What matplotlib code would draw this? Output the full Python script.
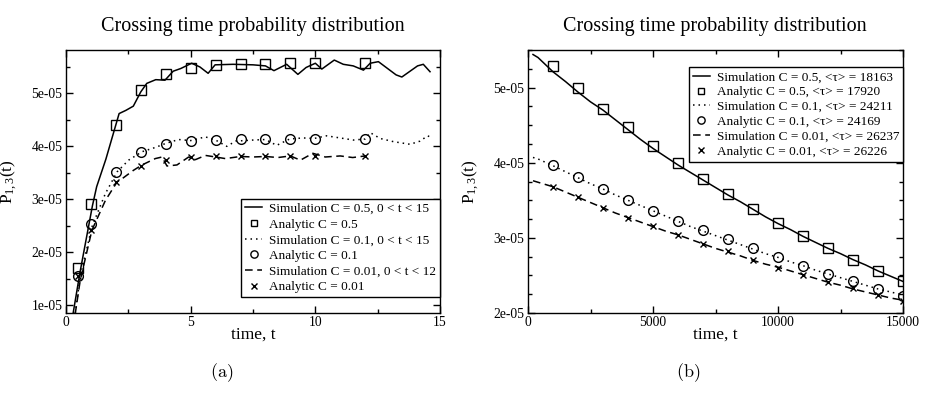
import numpy as np
import matplotlib
matplotlib.use("Agg")
import matplotlib.pyplot as plt
from matplotlib.ticker import MultipleLocator, FuncFormatter

plt.rcParams["font.family"] = ["Liberation Serif", "DejaVu Serif"]
plt.rcParams["mathtext.fontset"] = "custom"
plt.rcParams["mathtext.rm"] = "Liberation Serif"
plt.rcParams["mathtext.it"] = "Liberation Serif:italic"

# ---------------- panel (a): short times ----------------
a_sim05_t = [0.25, 0.56, 1.06, 1.23, 1.6, 2.13, 2.4, 2.7, 3.0, 3.24, 3.6, 3.97, 4.3, 4.6,
             5.04, 5.37, 5.7, 5.98, 6.7, 7.5, 8.0, 8.34, 8.85, 9.3, 9.63, 10.0, 10.26,
             10.76, 11.12, 11.52, 11.93, 12.2, 12.53, 13.24, 13.47, 14.1, 14.33, 14.6]
a_sim05_p = [0.75, 1.62, 2.88, 3.24, 3.76, 4.62, 4.68, 4.76, 5.03, 5.19, 5.26, 5.25, 5.42, 5.47,
             5.57, 5.50, 5.38, 5.54, 5.55, 5.54, 5.52, 5.43, 5.55, 5.36, 5.49, 5.57, 5.46,
             5.63, 5.55, 5.52, 5.44, 5.57, 5.60, 5.35, 5.31, 5.52, 5.55, 5.41]

a_sim01_t = [0.37, 0.57, 1.04, 1.31, 1.58, 2.05, 2.51, 3.05, 3.58, 4.02, 4.52, 5.0, 5.59, 6.0,
             6.45, 6.8, 7.5, 8.0, 8.45, 8.97, 9.5, 9.95, 10.45, 10.99, 11.53, 12.0, 12.2,
             12.6, 13.13, 13.8, 14.2, 14.5, 14.6]
a_sim01_p = [0.85, 1.54, 2.48, 2.80, 3.11, 3.52, 3.74, 3.90, 3.98, 4.06, 4.13, 4.11, 4.18, 4.12,
             4.00, 4.10, 4.12, 4.13, 4.02, 4.14, 4.16, 4.15, 4.20, 4.16, 4.12, 4.14, 4.26,
             4.15, 4.09, 4.04, 4.10, 4.20, 4.18]

a_sim001_t = [0.37, 0.57, 1.04, 1.58, 2.05, 2.25, 2.71, 3.05, 3.58, 3.85, 4.05, 4.45, 4.92,
              5.19, 5.59, 6.0, 6.39, 7.0, 7.5, 8.0, 8.5, 9.0, 9.4, 9.9, 10.4, 11.0, 11.5, 12.0]
a_sim001_p = [0.84, 1.47, 2.42, 2.98, 3.33, 3.39, 3.55, 3.65, 3.77, 3.80, 3.63, 3.65, 3.80,
              3.75, 3.83, 3.80, 3.77, 3.81, 3.80, 3.81, 3.79, 3.82, 3.74, 3.87, 3.80, 3.82, 3.79, 3.82]

a_ana_t = [0.5, 1, 2, 3, 4, 5, 6, 7, 8, 9, 10, 12]
a_ana05 = [1.70, 2.92, 4.40, 5.06, 5.37, 5.48, 5.54, 5.55, 5.56, 5.57, 5.57, 5.57]
a_ana01 = [1.55, 2.53, 3.51, 3.90, 4.05, 4.10, 4.13, 4.14, 4.14, 4.14, 4.14, 4.14]
a_ana001 = [1.55, 2.43, 3.32, 3.63, 3.75, 3.80, 3.81, 3.81, 3.81, 3.82, 3.82, 3.82]

a_labels = ["Simulation C = 0.5, 0 < t < 15", "Analytic C = 0.5",
            "Simulation C = 0.1, 0 < t < 15", "Analytic C = 0.1",
            "Simulation C = 0.01, 0 < t < 12", "Analytic C = 0.01"]

# ---------------- panel (b): long times ----------------
b_sim_t = [200, 400, 1000, 1500, 2000, 2500, 3000, 3500, 4000, 4500, 5000, 5500, 6000, 6500,
           7000, 7500, 8000, 8500, 9000, 9500, 10000, 10500, 11000, 11500, 12000, 12500,
           13000, 13500, 14000, 14500, 15000]
b_sim05 = [5.44, 5.40, 5.21, 5.08, 4.94, 4.81, 4.70, 4.57, 4.44, 4.31, 4.19, 4.08, 3.97, 3.87,
           3.77, 3.67, 3.57, 3.48, 3.38, 3.28, 3.19, 3.11, 3.02, 2.94, 2.86, 2.79,
           2.71, 2.64, 2.56, 2.49, 2.42]
b_sim01 = [4.07, 4.05, 3.96, 3.88, 3.80, 3.72, 3.65, 3.57, 3.50, 3.43, 3.36, 3.29, 3.22, 3.15,
           3.09, 3.03, 2.97, 2.91, 2.85, 2.79, 2.74, 2.68, 2.63, 2.57, 2.52, 2.47,
           2.42, 2.37, 2.32, 2.28, 2.24]
b_sim001 = [3.76, 3.74, 3.68, 3.61, 3.54, 3.47, 3.40, 3.33, 3.27, 3.21, 3.15, 3.09, 3.04, 2.98,
            2.92, 2.86, 2.81, 2.76, 2.70, 2.65, 2.61, 2.56, 2.51, 2.46, 2.41, 2.37,
            2.32, 2.28, 2.24, 2.20, 2.17]

b_ana_t = [1000, 2000, 3000, 4000, 5000, 6000, 7000, 8000, 9000, 10000, 11000, 12000,
           13000, 14000, 15000]
b_ana05 = [5.29, 5.00, 4.72, 4.47, 4.22, 3.99, 3.78, 3.58, 3.38, 3.20, 3.03, 2.87, 2.71, 2.56, 2.42]
b_ana01 = [3.97, 3.81, 3.65, 3.51, 3.36, 3.23, 3.10, 2.98, 2.86, 2.74, 2.63, 2.52, 2.42, 2.32, 2.23]
b_ana001 = [3.68, 3.54, 3.40, 3.27, 3.16, 3.04, 2.92, 2.82, 2.71, 2.60, 2.51, 2.41, 2.33, 2.24, 2.16]

b_labels = ["Simulation C = 0.5, <\u03c4> = 18163", "Analytic C = 0.5, <\u03c4> = 17920",
            "Simulation C = 0.1, <\u03c4> = 24211", "Analytic C = 0.1, <\u03c4> = 24169",
            "Simulation C = 0.01, <\u03c4> = 26237", "Analytic C = 0.01, <\u03c4> = 26226"]

SCALE = 1e-5
title_text = "Crossing time probability distribution"

fig = plt.figure(figsize=(9.25, 3.97), dpi=100)
ax_a = fig.add_axes([66 / 925, 1 - 313 / 397, 374 / 925, 263 / 397])
ax_b = fig.add_axes([528 / 925, 1 - 313 / 397, 375 / 925, 263 / 397])

dotted = (0, (1.0, 2.6))
dashed = (0, (5, 3))
sq_kw = dict(marker="s", ms=6.5, mfc="none", mec="black", mew=1.0, ls="none")
ci_kw = dict(marker="o", ms=7, mfc="none", mec="black", mew=1.0, ls="none")
x_kw = dict(marker="x", ms=5, mec="black", mew=1.0, ls="none")


def draw(ax, t_sims, sims, t_ana, anas):
    a = lambda v: np.asarray(v) * SCALE
    h = []
    h += ax.plot(t_sims[0], a(sims[0]), color="black", lw=1.1, ls="-")
    h += ax.plot(t_ana, a(anas[0]), **sq_kw)
    h += ax.plot(t_sims[1], a(sims[1]), color="black", lw=1.1, ls=dotted)
    h += ax.plot(t_ana, a(anas[1]), **ci_kw)
    h += ax.plot(t_sims[2], a(sims[2]), color="black", lw=1.1, ls=dashed)
    h += ax.plot(t_ana, a(anas[2]), **x_kw)
    return h


def style(ax):
    ax.tick_params(which="both", direction="in", top=True, right=True,
                   labelsize=9.8, colors="black", pad=2.5)
    ax.tick_params(which="major", length=5, width=1.0)
    ax.tick_params(which="minor", length=3, width=1.0)
    for s in ax.spines.values():
        s.set_linewidth(1.0)
    ax.yaxis.set_major_formatter(FuncFormatter(lambda v, p: "{:.0e}".format(v)))
    ax.set_xlabel("time, t", fontsize=12.5)
    ax.set_ylabel(r"P$_{\mathregular{1,3}}$(t)", fontsize=12.5, fontweight="normal")
    ax.xaxis.set_label_coords(0.5, -0.05)


def add_legend(ax, handles, labels, spacing, **kw):
    leg = ax.legend(handles, labels, borderaxespad=0, fontsize=9.5, frameon=True,
                    fancybox=False, edgecolor="black", framealpha=1, handlelength=1.3,
                    handletextpad=0.5, labelspacing=spacing, borderpad=0.3,
                    markerscale=0.75, **kw)
    leg.get_frame().set_linewidth(1.0)
    return leg


# panel (a)
ha = draw(ax_a, [a_sim05_t, a_sim01_t, a_sim001_t], [a_sim05_p, a_sim01_p, a_sim001_p],
          a_ana_t, [a_ana05, a_ana01, a_ana001])
ax_a.set_xlim(0, 15)
ax_a.set_ylim(0.855e-5, 5.82e-5)
ax_a.xaxis.set_major_locator(MultipleLocator(5))
ax_a.xaxis.set_minor_locator(MultipleLocator(2.5))
ax_a.yaxis.set_major_locator(MultipleLocator(1e-5))
ax_a.yaxis.set_minor_locator(MultipleLocator(0.5e-5))
style(ax_a)
ax_a.yaxis.set_label_coords(-0.125, 0.5)
add_legend(ax_a, ha, a_labels, 0.26, loc="lower right", bbox_to_anchor=(1.0, 0.06))

# panel (b)
hb = draw(ax_b, [b_sim_t] * 3, [b_sim05, b_sim01, b_sim001],
          b_ana_t, [b_ana05, b_ana01, b_ana001])
ax_b.set_xlim(0, 15000)
ax_b.set_ylim(2e-5, 5.5e-5)
ax_b.xaxis.set_major_locator(MultipleLocator(5000))
ax_b.xaxis.set_minor_locator(MultipleLocator(2500))
ax_b.yaxis.set_major_locator(MultipleLocator(1e-5))
ax_b.yaxis.set_minor_locator(MultipleLocator(0.25e-5))
style(ax_b)
ax_b.yaxis.set_label_coords(-0.125, 0.5)
add_legend(ax_b, hb, b_labels, 0.2, loc="upper right", bbox_to_anchor=(1.0, 0.935))

# titles and sub-figure captions
for cx in (253 / 925, 715 / 925):
    fig.text(cx, 1 - 26 / 397, title_text, ha="center", va="center", fontsize=14.5)
fig.text(222 / 925, 1 - 373 / 397, r"$\mathrm{(a)}$", ha="center", va="center",
         fontsize=13, math_fontfamily="cm")
fig.text(688 / 925, 1 - 373 / 397, r"$\mathrm{(b)}$", ha="center", va="center",
         fontsize=13, math_fontfamily="cm")

fig.savefig("out.png", dpi=100)
